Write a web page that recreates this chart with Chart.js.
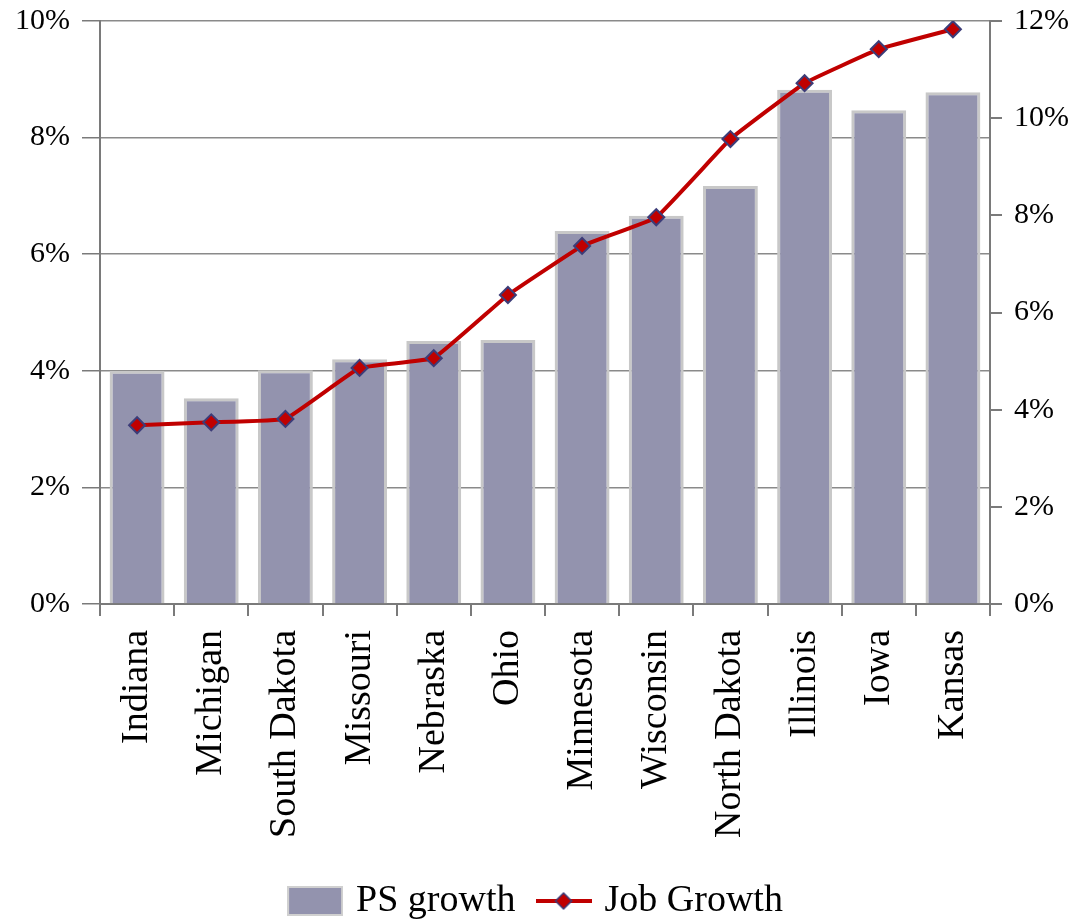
<!DOCTYPE html>
<html>
<head>
<meta charset="utf-8">
<script src="https://cdn.jsdelivr.net/npm/chart.js@4/dist/chart.umd.min.js"></script>
<style>
html,body{margin:0;padding:0;background:#fff;}
#wrap{width:1076px;height:922px;position:relative;}
</style>
</head>
<body>
<div id="wrap"><canvas id="c" width="1076" height="922"></canvas></div>
<script>
const categories = ["Indiana","Michigan","South Dakota","Missouri","Nebraska","Ohio","Minnesota","Wisconsin","North Dakota","Illinois","Iowa","Kansas"];
const psGrowth = [4.00, 3.53, 4.01, 4.20, 4.51, 4.53, 6.40, 6.66, 7.17, 8.82, 8.47, 8.78];
const jobGrowth = [3.68, 3.74, 3.81, 4.86, 5.06, 6.36, 7.37, 7.96, 9.57, 10.72, 11.42, 11.83];
const leftTicks = [0, 2, 4, 6, 8, 10];
const rightTicks = [0, 2, 4, 6, 8, 10, 12];

const FONT = "'Liberation Serif', 'DejaVu Serif', serif";
const BAR_COLOR = '#9393ae';
const LINE_COLOR = '#c00000';
const AXIS_COLOR = '#7a7a7a';

function makeBarSwatch(){
  const c = document.createElement('canvas');
  c.width = 56; c.height = 30;
  const g = c.getContext('2d');
  g.fillStyle = '#d0d0d0'; g.fillRect(0,0,56,30);
  g.fillStyle = BAR_COLOR; g.fillRect(2,2,52,26);
  return c;
}
function makeLineSwatch(){
  const c = document.createElement('canvas');
  c.width = 56; c.height = 20;
  const g = c.getContext('2d');
  g.strokeStyle = LINE_COLOR; g.lineWidth = 4;
  g.beginPath(); g.moveTo(0,10); g.lineTo(56,10); g.stroke();
  g.beginPath(); g.moveTo(28,2); g.lineTo(36,10); g.lineTo(28,18); g.lineTo(20,10); g.closePath();
  g.fillStyle = LINE_COLOR; g.fill();
  g.strokeStyle = '#3c3c78'; g.lineWidth = 1.5; g.stroke();
  return c;
}
const barSwatch = makeBarSwatch();
const lineSwatch = makeLineSwatch();

function noPad(s){ s.paddingTop = 0; s.paddingBottom = 0; }

new Chart(document.getElementById('c'), {
  data: {
    labels: categories,
    datasets: [
      {
        type: 'line',
        label: 'Job Growth',
        data: jobGrowth,
        yAxisID: 'y2',
        borderColor: LINE_COLOR,
        borderWidth: 4,
        tension: 0.08,
        pointStyle: 'rectRot',
        pointRadius: 8,
        pointBackgroundColor: LINE_COLOR,
        pointBorderColor: '#3c3c78',
        pointBorderWidth: 2,
        order: 0
      },
      {
        type: 'bar',
        label: 'PS growth',
        data: psGrowth,
        yAxisID: 'y',
        backgroundColor: BAR_COLOR,
        borderColor: '#c8c8c8',
        borderWidth: 3,
        categoryPercentage: 1.0,
        barPercentage: 0.74,
        order: 1
      }
    ]
  },
  options: {
    responsive: false,
    animation: false,
    devicePixelRatio: 1,
    layout: { padding: { top: 21, left: 0, right: 0, bottom: -8 } },
    plugins: {
      tooltip: { enabled: false },
      legend: {
        position: 'bottom',
        labels: {
          usePointStyle: true,
          pointStyleWidth: 44,
          boxHeight: 30,
          padding: 26,
          color: '#000',
          font: { family: FONT, size: 38 },
          generateLabels: function(chart){
            return [
              { text: 'PS growth', pointStyle: barSwatch, fillStyle: BAR_COLOR, strokeStyle: BAR_COLOR, lineWidth: 0, hidden: false, datasetIndex: 1, fontColor: '#000' },
              { text: 'Job Growth', pointStyle: lineSwatch, fillStyle: LINE_COLOR, strokeStyle: LINE_COLOR, lineWidth: 0, hidden: false, datasetIndex: 0, fontColor: '#000' }
            ];
          }
        }
      }
    },
    scales: {
      x: {
        offset: true,
        grid: { offset: true, drawOnChartArea: false, drawTicks: true, tickLength: 12, color: AXIS_COLOR, lineWidth: 2 },
        border: { color: AXIS_COLOR, width: 2 },
        ticks: { color: '#000', font: { family: FONT, size: 38 }, minRotation: 90, maxRotation: 90, autoSkip: false, padding: 14 },
        afterFit: function(s){ s.height = 252; s.paddingLeft = 0; s.paddingRight = 0; }
      },
      y: {
        position: 'left',
        min: 0, max: 10,
        afterBuildTicks: function(s){ s.ticks = leftTicks.map(v => ({ value: v })); },
        grid: { color: '#8a8a8a', lineWidth: 1.5, drawTicks: true, tickLength: 18, tickColor: AXIS_COLOR },
        border: { color: AXIS_COLOR, width: 2 },
        ticks: { color: '#000', font: { family: FONT, size: 30 }, padding: 12, callback: v => v + '%' },
        afterFit: function(s){ s.width = 100; noPad(s); }
      },
      y2: {
        position: 'right',
        min: 0, max: 12,
        afterBuildTicks: function(s){ s.ticks = rightTicks.map(v => ({ value: v })); },
        grid: { drawOnChartArea: false, drawTicks: true, tickLength: 12, color: AXIS_COLOR, lineWidth: 2 },
        border: { color: AXIS_COLOR, width: 2 },
        ticks: { color: '#000', font: { family: FONT, size: 30 }, padding: 12, callback: v => v + '%' },
        afterFit: function(s){ s.width = 86; noPad(s); }
      }
    }
  }
});
</script>
</body>
</html>
